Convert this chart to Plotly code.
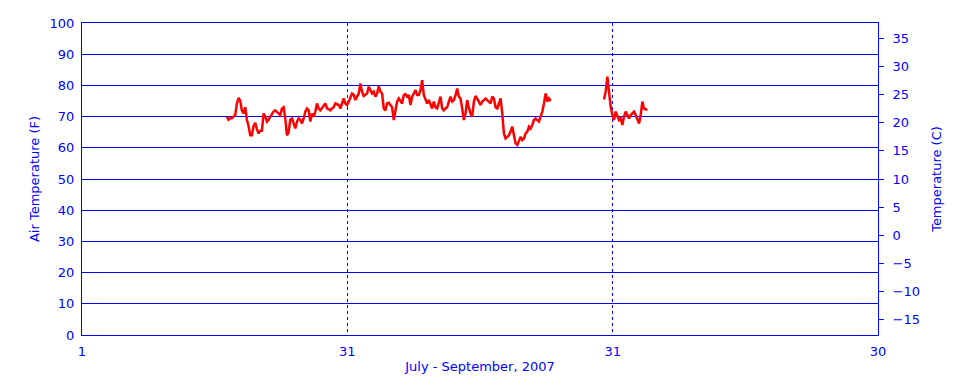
import plotly.graph_objects as go

# Day index (0 = July 1), months drawn evenly like the reference
TICK_DAYS = [0, 30, 60, 90]
TICK_LABELS = ["1", "31", "31", "30"]

STEP_DAYS = 0.1887  # sampling interval

SEG1_START = 16.38
SEG1_F = [
    70, 69, 69.5, 69.5, 70, 70.5, 74.2, 76, 75, 72, 71, 73, 69, 67, 64, 64, 67, 68, 66, 64.6,
    65.5, 65.5, 71, 70, 68.4, 69, 70, 71, 71.6, 72, 71.6, 71, 70.5, 72.6, 73, 69.4, 64, 65, 69, 69.4,
    68, 66.2, 68.4, 69.4, 69, 67.8, 69.4, 71.6, 72.6, 72, 68.4, 71, 70, 71.6, 74.2, 72.6, 72, 73, 73.5, 74.2,
    72.6, 72.4, 72, 72.6, 73, 74.2, 73.8, 73.7, 72.6, 74, 75.8, 74.2, 73.7, 74.8,
    76.4, 77.4, 77, 75.3, 76.4, 77.4, 80.6, 78, 76.6, 76.9, 77.4, 79.6, 78.5, 77.4, 78, 76.4, 77.4, 79.8, 78, 77.4,
    72.6, 72, 74.2, 74.4, 73.7, 73, 68.9, 72.6, 74.8, 75.8, 74.8, 74.2, 76.9, 77.2, 76.4, 76.9, 73.7, 76.4, 77.4, 78.5,
    76.9, 76.9, 78.5, 81.7, 76.9, 75.8, 74.2, 75.3, 73.7, 72.6, 74.8, 73, 72.6, 74.2, 76.4, 72.6, 72, 72.6, 73, 74.8,
    76.4, 74.8, 75.3, 76.9, 79, 76.4, 75.8, 72.6, 68.9, 71, 75.3, 73, 71, 70, 74.8, 76.6, 75.8, 74.8, 73.7, 74.8,
    75.3, 75.8, 75.3, 74.8, 74.2, 76.4, 75.8, 73, 72.6, 74.2, 75.8, 71, 64.6, 63, 63.5, 64, 65.2, 66.8, 64, 61.4,
    60.9, 62.5, 63.5, 62.5, 63, 64.6, 65.2, 66.8, 66.2, 67.3, 68.9, 69.4, 68.9, 68.4, 70, 71.6, 74.2, 77.4, 74.8, 75.8,
    75,
]

SEG2_START = 59.02
SEG2_F = [
    75.5, 78, 82.8, 77.4, 73.2, 70.5, 68.9, 71.6, 70.5, 68.9, 69.4, 67.3, 70, 71.6, 70.5, 69.4, 70.5, 71, 71.6, 70.5,
    68.9, 67.8, 70.5, 74.8, 72.6, 72.3, 72.3,
]

F_RANGE = [0, 100]


def to_c(f):
    return (f - 32) * 5 / 9


def times(start, n):
    return [start + i * STEP_DAYS for i in range(n)]


BLUE = "#0000ff"
FONT = dict(family="DejaVu Sans", size=13, color=BLUE)

fig = go.Figure()
for start, vals in [(SEG1_START, SEG1_F), (SEG2_START, SEG2_F)]:
    x = times(start, len(vals))
    fig.add_trace(go.Scatter(x=x, y=vals, mode="lines",
                             line=dict(color="#ff0000", width=2.5),
                             showlegend=False, hoverinfo="x+y"))
    # Same data in Celsius on the right axis (invisible, keeps axis alive)
    fig.add_trace(go.Scatter(x=x, y=[to_c(v) for v in vals], mode="lines",
                             line=dict(color="rgba(0,0,0,0)", width=1),
                             yaxis="y2", showlegend=False, hoverinfo="skip"))

fig.update_layout(
    width=960, height=384,
    margin=dict(l=74, r=90, t=15, b=57),
    paper_bgcolor="white", plot_bgcolor="white",
    font=FONT,
    xaxis=dict(
        range=[0, 90], tickvals=TICK_DAYS, ticktext=TICK_LABELS,
        showgrid=True, gridcolor=BLUE, griddash="dot", gridwidth=1,
        showline=True, linecolor=BLUE, linewidth=1, mirror=True,
        ticks="", zeroline=False, ticklabelstandoff=4, automargin=False,
        title=dict(text="July - September, 2007", font=FONT, standoff=4),
    ),
    yaxis=dict(
        range=F_RANGE, dtick=10, tick0=0,
        showgrid=True, gridcolor=BLUE, gridwidth=1,
        showline=True, linecolor=BLUE, linewidth=1, mirror=True,
        ticks="", zeroline=False, ticklabelstandoff=4, automargin=False,
        title=dict(text="Air Temperature (F)", font=FONT, standoff=7),
    ),
    yaxis2=dict(
        range=[to_c(F_RANGE[0]), to_c(F_RANGE[1])], dtick=5, tick0=0,
        overlaying="y", side="right", showgrid=False, zeroline=False,
        ticks="outside", ticklen=5, tickcolor=BLUE, tickwidth=1,
        showline=False, ticklabelstandoff=6, automargin=False,
        title=dict(text="Temperature (C)", font=FONT, standoff=12),
    ),
)

fig.write_html("out.html")
